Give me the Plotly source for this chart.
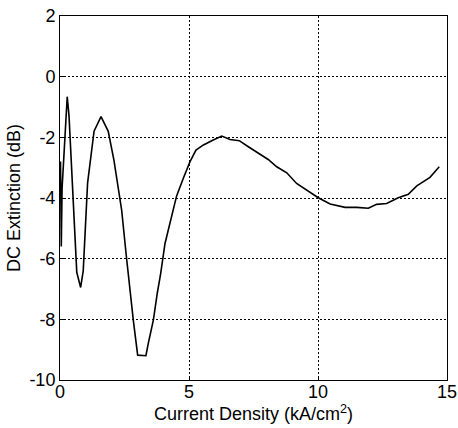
import plotly.graph_objects as go

current_density = [0.02, 0.05, 0.08, 0.28, 0.35, 0.65, 0.80, 0.90, 1.07, 1.32,
                   1.59, 1.87, 2.09, 2.26, 2.39, 2.56, 2.71, 2.84, 3.01, 3.33,
                   3.42, 3.62, 3.77, 3.90, 4.07, 4.33, 4.52, 4.78, 5.04, 5.27,
                   5.56, 5.94, 6.27, 6.59, 6.95, 7.30, 7.69, 8.07, 8.40, 8.79,
                   9.17, 9.56, 10.01, 10.47, 11.05, 11.50, 11.95, 12.27, 12.66,
                   13.11, 13.50, 13.83, 14.34, 14.70]
dc_extinction = [-2.8, -5.6, -3.7, -0.66, -1.3, -6.45, -6.95, -6.4, -3.5, -1.8,
                 -1.32, -1.8, -2.75, -3.63, -4.4, -5.83, -7.03, -8.02, -9.18, -9.2,
                 -8.8, -8.02, -7.14, -6.5, -5.5, -4.56, -3.93, -3.35, -2.8, -2.42,
                 -2.25, -2.09, -1.96, -2.07, -2.11, -2.31, -2.53, -2.73, -2.97, -3.17,
                 -3.52, -3.74, -3.99, -4.2, -4.31, -4.31, -4.34, -4.21, -4.18,
                 -3.99, -3.88, -3.6, -3.32, -2.97]

x_ticks = [0, 5, 10, 15]
x_tick_labels = ["0", "5", "10", "15"]
y_ticks = [2, 0, -2, -4, -6, -8, -10]
y_tick_labels = ["2", "0", "-2", "-4", "-6", "-8", "-10"]

fig = go.Figure(go.Scatter(x=current_density, y=dc_extinction, mode="lines",
                           line=dict(color="black", width=1.6)))

font = dict(family="Liberation Sans, Arial, sans-serif", size=18, color="black")
axis_common = dict(showline=True, mirror=True, linecolor="black", linewidth=1,
                   showgrid=True, gridcolor="black", gridwidth=1, griddash="2px,2px",
                   zeroline=False, ticks="inside", ticklen=4, tickcolor="black",
                   tickfont=font, automargin=False, ticklabeloverflow="allow")

fig.update_xaxes(range=[0, 15], tickvals=x_ticks, ticktext=x_tick_labels, **axis_common,
                 ticklabelstandoff=-5,
                 title=dict(text="Current Density (kA/cm<sup>2</sup>)", font=font, standoff=2))
fig.update_yaxes(range=[-10, 2], tickvals=y_ticks, ticktext=y_tick_labels, **axis_common,
                 title=dict(text="DC Extinction (dB)", font=font, standoff=4))

fig.update_layout(width=458, height=428, margin=dict(l=60, r=11, t=16, b=48),
                  paper_bgcolor="white", plot_bgcolor="white", showlegend=False,
                  font=font)
# remove the default page margin so the figure fills the window exactly
fig.write_html("out.html", config={"displayModeBar": False},
               post_script="document.body.style.margin='0';document.body.style.overflow='hidden';")
